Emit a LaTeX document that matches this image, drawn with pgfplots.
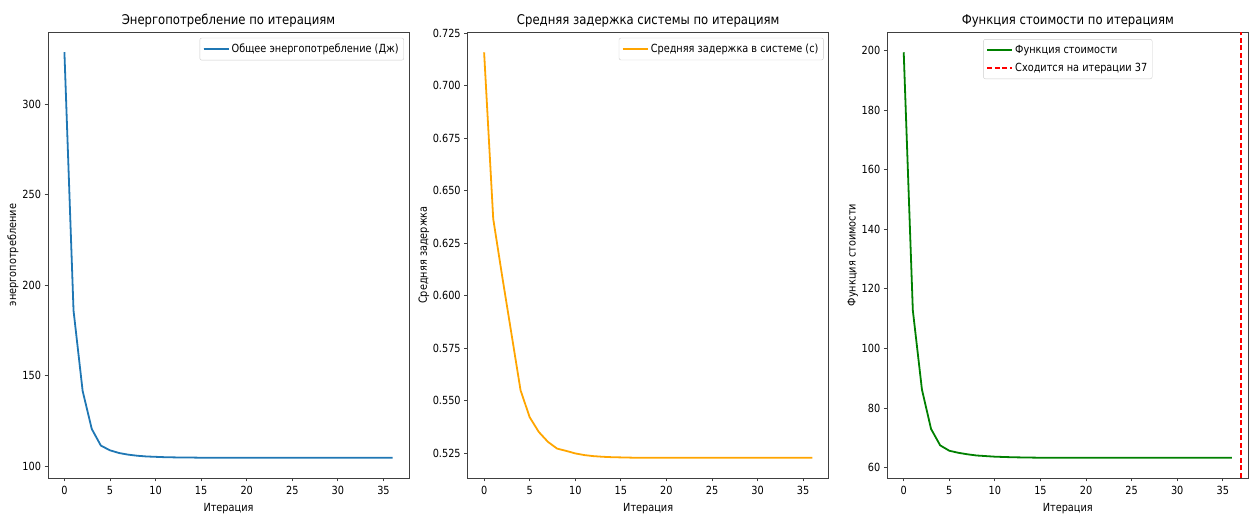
\documentclass[border=0pt]{standalone}
\usepackage{pgfplots}
\pgfplotsset{compat=1.18}
\usepackage{fontspec}
\setmainfont[FakeStretch=0.87]{DejaVu Sans}

\definecolor{mplblue}{HTML}{1F77B4}
\definecolor{mplorange}{HTML}{FFA500}
\definecolor{mplgreen}{HTML}{008000}
\definecolor{mplred}{HTML}{FF0000}

\pgfplotsset{
  panel/.style={
    scale only axis,
    width=361pt, height=446pt,
    anchor=south west,
    xmin=-1.8, xmax=37.8,
    xtick={0,5,...,35},
    tick pos=left, tick align=outside,
    major tick length=3.5pt,
    axis line style={black!75, line width=0.9pt},
    every tick/.style={black!75, line width=0.8pt},
    tick label style={font=\fontsize{11.2}{13}\selectfont},
    xticklabel style={yshift=-1.5pt},
    /pgf/number format/assume math mode=true,
    title style={font=\fontsize{13.4}{15}\selectfont, at={(0.5,1)}, anchor=south, yshift=-4.5pt},
    label style={font=\fontsize{11.2}{13}\selectfont},
    xlabel style={at={(axis description cs:0.5,0)}, anchor=center, yshift=-31pt},
    xlabel={Итерация},
    legend style={font=\fontsize{11.2}{13}\selectfont, draw=black!20, rounded corners=2pt,
      fill=white, fill opacity=0.8, text opacity=1, inner xsep=3pt, inner ysep=4pt,
      row sep=4pt},
    legend cell align=left,
    legend image code/.code={\draw[#1] (0pt,0pt) -- (20pt,0pt); \path (0pt,0pt) -- (25pt,0pt);},
  },
}

\begin{document}
\begin{tikzpicture}
\useasboundingbox (0,0) rectangle (1253pt,516pt);

% --- panel 1: energy
\begin{axis}[panel, at={(48pt,38pt)},
  ymin=93.4, ymax=339.9, ytick={100,150,200,250,300},
  title={Энергопотребление по итерациям},
  ylabel={энергопотребление},
  ylabel style={at={(axis description cs:-0.097,0.5)}, anchor=center},
  legend style={at={(0.986,0.987)}, anchor=north east},
]
\addplot[color=mplblue, line width=1.8pt, line join=round] coordinates {
(0,328.8)(1,186)(2,141.5)(3,120.5)(4,111.3)(5,108.7)(6,107.2)(7,106.3)(8,105.7)
(9,105.3)(10,105.1)(11,104.9)(12,104.8)(13,104.7)(14,104.7)(15,104.6)(16,104.6)
(17,104.6)(18,104.6)(19,104.6)(20,104.6)(21,104.6)(22,104.6)(23,104.6)(24,104.6)
(25,104.6)(26,104.6)(27,104.6)(28,104.6)(29,104.6)(30,104.6)(31,104.6)(32,104.6)
(33,104.6)(34,104.6)(35,104.6)(36,104.6)};
\addlegendentry{Общее энергопотребление (Дж)}
\end{axis}

% --- panel 2: delay
\begin{axis}[panel, at={(467.7pt,38pt)},
  ymin=0.5133, ymax=0.7255,
  ytick={0.525,0.55,0.575,0.6,0.625,0.65,0.675,0.7,0.725},
  yticklabel style={/pgf/number format/.cd, fixed, fixed zerofill, precision=3},
  title={Средняя задержка системы по итерациям},
  ylabel={Средняя задержка},
  ylabel style={at={(axis description cs:-0.1217,0.5)}, anchor=center},
  legend style={at={(0.986,0.987)}, anchor=north east},
]
\addplot[color=mplorange, line width=1.8pt, line join=round] coordinates {
(0,0.7158)(1,0.6366)(2,0.6088)(3,0.5819)(4,0.5550)(5,0.5422)(6,0.5352)(7,0.5305)
(8,0.5273)(9,0.5262)(10,0.5250)(11,0.5242)(12,0.5237)(13,0.5234)(14,0.5232)
(15,0.5231)(16,0.5230)(17,0.5229)(18,0.5229)(19,0.5229)(20,0.5229)(21,0.5229)
(22,0.5229)(23,0.5229)(24,0.5229)(25,0.5229)(26,0.5229)(27,0.5229)(28,0.5229)
(29,0.5229)(30,0.5229)(31,0.5229)(32,0.5229)(33,0.5229)(34,0.5229)(35,0.5229)(36,0.5229)};
\addlegendentry{Средняя задержка в системе (с)}
\end{axis}

% --- panel 3: cost
\begin{axis}[panel, at={(887.3pt,38pt)},
  ymin=56.55, ymax=206.2, ytick={60,80,...,200},
  title={Функция стоимости по итерациям},
  ylabel={Функция стоимости},
  ylabel style={at={(axis description cs:-0.0956,0.5)}, anchor=center},
  legend style={at={(0.5,0.984)}, anchor=north},
]
\addplot[color=mplgreen, line width=1.8pt, line join=round] coordinates {
(0,199.4)(1,112.8)(2,86.2)(3,73.0)(4,67.5)(5,65.7)(6,65.0)(7,64.5)(8,64.1)
(9,63.9)(10,63.7)(11,63.6)(12,63.5)(13,63.45)(14,63.4)(15,63.35)(16,63.35)
(17,63.35)(18,63.35)(19,63.35)(20,63.35)(21,63.35)(22,63.35)(23,63.35)(24,63.35)
(25,63.35)(26,63.35)(27,63.35)(28,63.35)(29,63.35)(30,63.35)(31,63.35)(32,63.35)
(33,63.35)(34,63.35)(35,63.35)(36,63.35)};
\addlegendentry{Функция стоимости}
\addplot[color=mplred, line width=1.6pt, dash pattern=on 5pt off 2.5pt] coordinates {(37,56.55)(37,206.2)};
\addlegendentry{Сходится на итерации 37}
\end{axis}
\end{tikzpicture}
\end{document}
